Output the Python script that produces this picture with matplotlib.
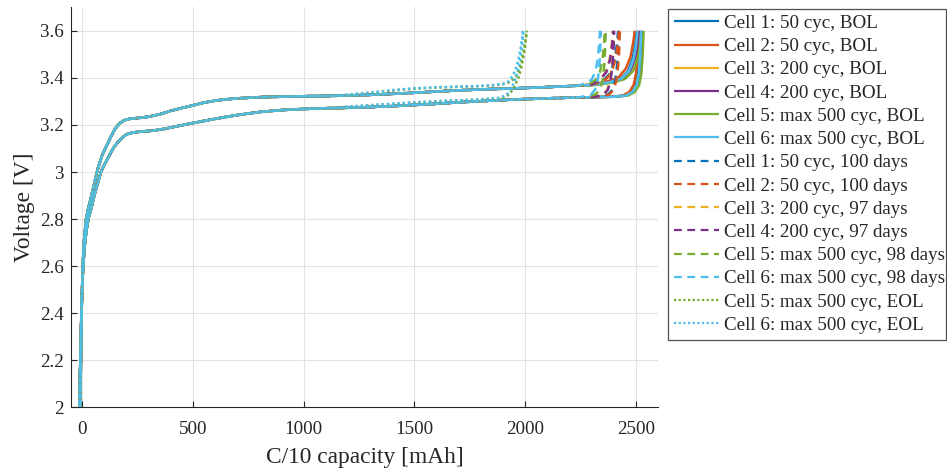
import matplotlib
matplotlib.use("Agg")
import matplotlib.pyplot as plt
from matplotlib.ticker import FuncFormatter

plt.rcParams['font.family'] = ['Liberation Serif', 'DejaVu Serif']

# ---------------- data ----------------
colors = ['#0072BD', '#D95319', '#EDB120', '#7E2F8E', '#77AC30', '#4DBEEE']

labels = [
    "Cell 1: 50 cyc, BOL", "Cell 2: 50 cyc, BOL", "Cell 3: 200 cyc, BOL",
    "Cell 4: 200 cyc, BOL", "Cell 5: max 500 cyc, BOL", "Cell 6: max 500 cyc, BOL",
    "Cell 1: 50 cyc, 100 days", "Cell 2: 50 cyc, 100 days", "Cell 3: 200 cyc, 97 days",
    "Cell 4: 200 cyc, 97 days", "Cell 5: max 500 cyc, 98 days", "Cell 6: max 500 cyc, 98 days",
    "Cell 5: max 500 cyc, EOL", "Cell 6: max 500 cyc, EOL",
]

# shared upper branch (0 .. 1100 mAh)
up_start_q = [-8, -6, -3, 0, 4, 10, 18, 27, 40, 55, 70, 90, 110, 130, 150, 170, 190,
              220, 260, 300, 350, 400, 450, 500, 550, 600, 650, 700, 800, 900, 1000, 1100]
up_start_v = [2.0, 2.15, 2.35, 2.5, 2.62, 2.72, 2.8, 2.84, 2.89, 2.95, 3.01, 3.07, 3.11,
              3.15, 3.185, 3.207, 3.22, 3.227, 3.23, 3.235, 3.245, 3.26, 3.272, 3.283,
              3.295, 3.303, 3.309, 3.313, 3.318, 3.32, 3.322, 3.323]
# upper branch middle part (cells with BOL / ~100 days)
up_mid_q = [1200, 1300, 1400, 1500, 1600, 1700, 1800, 1900, 2000, 2100, 2200]
up_mid_v = [3.325, 3.328, 3.332, 3.337, 3.342, 3.347, 3.351, 3.354, 3.357, 3.361, 3.365]

# shared lower branch (0 .. 1100 mAh)
low_start_q = [-12, -9, -5, -1, 4, 10, 18, 28, 40, 55, 70, 85, 100, 120, 140, 160, 180,
               200, 230, 270, 320, 370, 420, 500, 600, 700, 800, 900, 1000, 1100]
low_start_v = [2.0, 2.15, 2.32, 2.47, 2.58, 2.67, 2.74, 2.8, 2.84, 2.9, 2.95, 3.0, 3.03,
               3.065, 3.1, 3.125, 3.145, 3.16, 3.168, 3.172, 3.176, 3.183, 3.193, 3.208,
               3.226, 3.242, 3.255, 3.263, 3.268, 3.271]
low_mid_q = [1200, 1300, 1400, 1500, 1600, 1700, 1800, 1900, 2000, 2100, 2200]
low_mid_v = [3.273, 3.276, 3.28, 3.285, 3.29, 3.296, 3.301, 3.306, 3.31, 3.313, 3.316]

# tails, upper branch
up_tail_q = [
    [2300, 2380, 2430, 2465, 2485, 2497, 2503],
    [2300, 2370, 2420, 2455, 2476, 2488, 2495],
    [2300, 2385, 2435, 2470, 2492, 2503, 2509],
    [2300, 2385, 2440, 2475, 2496, 2507, 2513],
    [2300, 2395, 2450, 2488, 2508, 2519, 2526],
    [2300, 2385, 2435, 2470, 2490, 2501, 2507],
    [2250, 2300, 2350, 2385, 2404, 2414, 2420],
    [2250, 2300, 2355, 2390, 2408, 2418, 2424],
    [2250, 2300, 2335, 2365, 2382, 2391, 2396],
    [2250, 2300, 2337, 2367, 2384, 2393, 2398],
    [2250, 2290, 2318, 2338, 2350, 2356, 2360],
    [2240, 2275, 2300, 2317, 2328, 2334, 2338],
    [1200, 1300, 1400, 1500, 1600, 1700, 1800, 1850, 1900, 1930, 1955, 1975, 1990, 2000, 2007],
    [1200, 1300, 1400, 1500, 1600, 1700, 1800, 1850, 1900, 1925, 1945, 1962, 1975, 1984, 1990],
]
up_tail_v = [
    [3.37, 3.38, 3.395, 3.43, 3.48, 3.54, 3.6],
    [3.372, 3.385, 3.40, 3.44, 3.49, 3.55, 3.6],
    [3.37, 3.382, 3.397, 3.43, 3.48, 3.54, 3.6],
    [3.37, 3.382, 3.398, 3.43, 3.48, 3.54, 3.6],
    [3.368, 3.38, 3.395, 3.43, 3.48, 3.54, 3.6],
    [3.37, 3.382, 3.397, 3.43, 3.48, 3.54, 3.6],
    [3.368, 3.372, 3.385, 3.42, 3.48, 3.54, 3.6],
    [3.368, 3.372, 3.385, 3.42, 3.48, 3.54, 3.6],
    [3.368, 3.372, 3.39, 3.425, 3.48, 3.54, 3.6],
    [3.368, 3.372, 3.39, 3.425, 3.48, 3.54, 3.6],
    [3.368, 3.376, 3.39, 3.425, 3.48, 3.54, 3.6],
    [3.367, 3.378, 3.392, 3.425, 3.48, 3.54, 3.6],
    [3.328, 3.336, 3.346, 3.354, 3.359, 3.362, 3.365, 3.368, 3.373, 3.382, 3.40, 3.44, 3.50, 3.55, 3.6],
    [3.329, 3.338, 3.348, 3.356, 3.36, 3.363, 3.366, 3.369, 3.374, 3.385, 3.41, 3.45, 3.50, 3.55, 3.6],
]

# tails, lower branch
low_tail_q = [
    [2300, 2400, 2450, 2480, 2500, 2510, 2516, 2520],
    [2300, 2390, 2440, 2470, 2490, 2501, 2508, 2512],
    [2300, 2400, 2455, 2485, 2505, 2515, 2521, 2525],
    [2300, 2400, 2458, 2488, 2508, 2518, 2524, 2528],
    [2300, 2400, 2465, 2495, 2515, 2525, 2531, 2535],
    [2300, 2400, 2455, 2485, 2504, 2514, 2520, 2524],
    [2300, 2345, 2375, 2395, 2407, 2415, 2420, 2424],
    [2300, 2350, 2380, 2400, 2412, 2420, 2425, 2428],
    [2300, 2325, 2352, 2372, 2384, 2392, 2397, 2400],
    [2300, 2327, 2355, 2374, 2386, 2394, 2399, 2402],
    [2260, 2290, 2318, 2338, 2350, 2357, 2361, 2364],
    [2240, 2270, 2298, 2316, 2328, 2335, 2339, 2342],
    [1200, 1300, 1400, 1500, 1600, 1700, 1800, 1900, 1930, 1950, 1970, 1985, 1998, 2008],
    [1200, 1300, 1400, 1500, 1600, 1700, 1800, 1890, 1920, 1940, 1958, 1972, 1984, 1993],
]
low_tail_v = [
    [3.318, 3.32, 3.325, 3.34, 3.37, 3.42, 3.5, 3.6],
    [3.318, 3.32, 3.325, 3.34, 3.37, 3.42, 3.5, 3.6],
    [3.318, 3.32, 3.325, 3.34, 3.37, 3.42, 3.5, 3.6],
    [3.318, 3.32, 3.325, 3.34, 3.37, 3.42, 3.5, 3.6],
    [3.318, 3.32, 3.325, 3.34, 3.37, 3.42, 3.5, 3.6],
    [3.318, 3.32, 3.325, 3.34, 3.37, 3.42, 3.5, 3.6],
    [3.318, 3.322, 3.33, 3.35, 3.39, 3.45, 3.52, 3.6],
    [3.318, 3.322, 3.33, 3.35, 3.39, 3.45, 3.52, 3.6],
    [3.318, 3.322, 3.33, 3.35, 3.39, 3.45, 3.52, 3.6],
    [3.318, 3.322, 3.33, 3.35, 3.39, 3.45, 3.52, 3.6],
    [3.318, 3.322, 3.33, 3.35, 3.39, 3.45, 3.52, 3.6],
    [3.317, 3.322, 3.33, 3.35, 3.39, 3.45, 3.52, 3.6],
    [3.277, 3.283, 3.289, 3.295, 3.3, 3.304, 3.308, 3.315, 3.33, 3.36, 3.40, 3.45, 3.52, 3.6],
    [3.278, 3.284, 3.29, 3.296, 3.301, 3.305, 3.309, 3.316, 3.332, 3.36, 3.40, 3.45, 3.52, 3.6],
]

styles = ['-'] * 6 + ['--'] * 6 + [':'] * 2
series_colors = colors + colors + [colors[4], colors[5]]

x_ticks = [0, 500, 1000, 1500, 2000, 2500]
y_ticks = [2.0, 2.2, 2.4, 2.6, 2.8, 3.0, 3.2, 3.4, 3.6]

# ---------------- figure ----------------
W, H = 947, 471
fig = plt.figure(figsize=(W / 100, H / 100), dpi=100)
ax = fig.add_axes([71 / W, 1 - 407.3 / H, (658 - 71) / W, (407.3 - 7.3) / H])

txt = '#262626'
handles = []
for i in range(len(labels)):
    eol = styles[i] == ':'
    if eol:
        uq = up_start_q + up_tail_q[i]
        uv = up_start_v + up_tail_v[i]
        lq = low_start_q + low_tail_q[i]
        lv = low_start_v + low_tail_v[i]
    else:
        uq = up_start_q + up_mid_q + up_tail_q[i]
        uv = up_start_v + up_mid_v + up_tail_v[i]
        lq = low_start_q + low_mid_q + low_tail_q[i]
        lv = low_start_v + low_mid_v + low_tail_v[i]
    kw = dict(color=series_colors[i], lw=1.8, solid_capstyle='butt', dash_capstyle='butt')
    h, = ax.plot(uq, uv, label=labels[i], **kw)
    h2, = ax.plot(lq, lv, **kw)
    for ln in (h, h2):
        if styles[i] == '--':
            ln.set_dashes([3.5, 2.5])
        elif styles[i] == ':':
            ln.set_dashes([1, 1.1])
    handles.append(h)

ax.set_xlim(-50, 2600)
ax.set_ylim(2.0, 3.7)
ax.set_xticks(x_ticks)
ax.set_yticks(y_ticks)
ax.yaxis.set_major_formatter(FuncFormatter(lambda v, p: '%g' % round(v, 2)))
ax.grid(True, color='#e3e3e3', lw=0.8)
ax.set_axisbelow(True)
for s in ('top', 'right'):
    ax.spines[s].set_visible(False)
for s in ('left', 'bottom'):
    ax.spines[s].set_color(txt)
    ax.spines[s].set_linewidth(0.8)
ax.tick_params(direction='in', length=4, width=0.8, color=txt, labelcolor=txt,
               labelsize=13.7)
ax.tick_params(axis='x', pad=10)
ax.tick_params(axis='y', pad=5)

ax.set_xlabel('C/10 capacity [mAh]', fontsize=16.8, color=txt, labelpad=6)
ax.set_ylabel('Voltage [V]', fontsize=16.8, color=txt, labelpad=4)

leg = fig.legend(handles, labels, loc='upper left',
                 bbox_to_anchor=(668 / W, 0, (946 - 668) / W, 1 - 9 / H),
                 bbox_transform=fig.transFigure, mode='expand',
                 borderaxespad=0, fontsize=13.7, frameon=True, fancybox=False,
                 handlelength=2.4, handletextpad=0.25, labelspacing=0.31,
                 borderpad=0.3)
leg.get_frame().set_edgecolor(txt)
leg.get_frame().set_linewidth(0.9)
for t in leg.get_texts():
    t.set_color(txt)
for ln in leg.get_lines():
    ln.set_linewidth(1.6)

fig.savefig('out.png', dpi=100)
